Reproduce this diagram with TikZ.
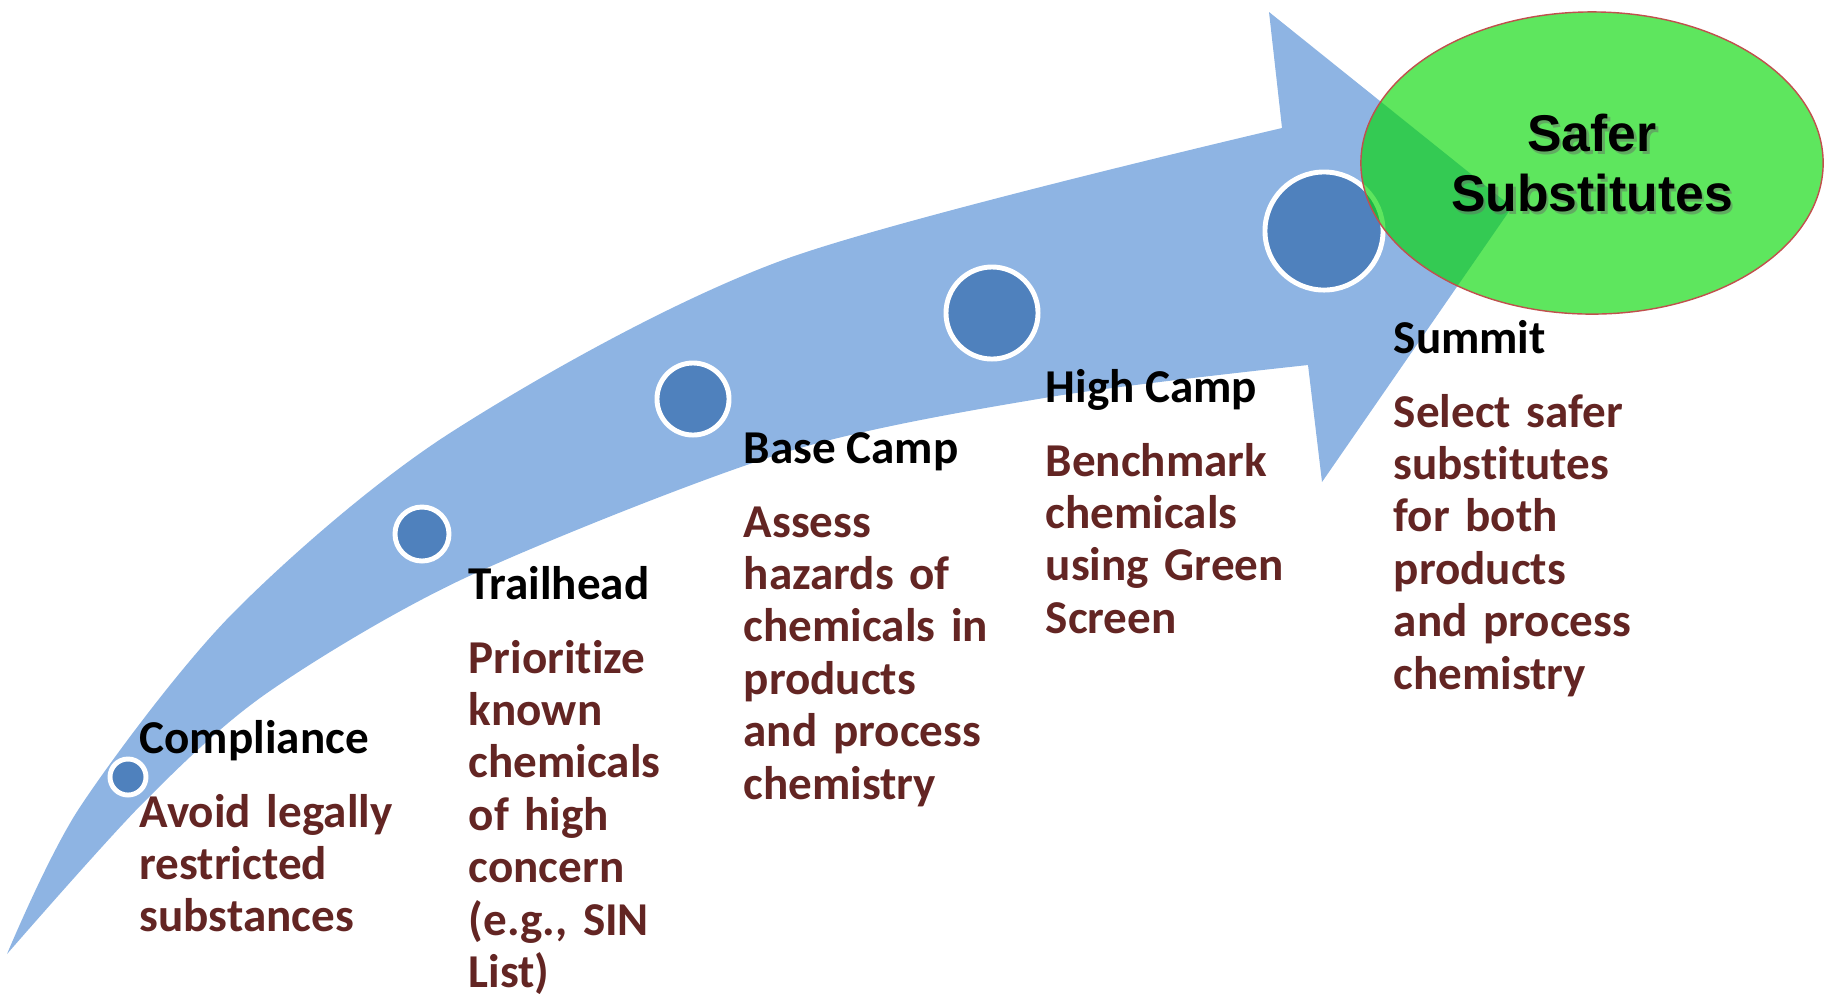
\documentclass[tikz,border=0pt]{standalone}
\usepackage{fontspec}
\setmainfont{Carlito}[Ligatures=NoCommon]
\newfontfamily\goalfont{Liberation Sans}
\usetikzlibrary{shapes.geometric}

\definecolor{trailblue}{HTML}{8EB4E3}
\definecolor{campblue}{HTML}{4F81BD}
\definecolor{textbrown}{HTML}{632523}
\definecolor{goalgreen}{RGB}{0,215,0}
\definecolor{goalred}{HTML}{C0504D}

\tikzset{
  camp/.style={circle, draw=white, line width=1.4pt, fill=campblue, inner sep=0pt},
  campname/.style={anchor=base west, inner sep=0pt, font=\bfseries\fontsize{13.4}{14.9}\selectfont},
  camptext/.style={anchor=base west, inner sep=0pt, text width=6cm, align=left,
    text=textbrown, font=\bfseries\fontsize{13.4}{14.9}\selectfont},
  goal/.style={ellipse, draw=goalred, line width=0.4pt, fill=goalgreen, fill opacity=0.63,
    text opacity=1, align=center, inner sep=0pt,
    font=\goalfont\bfseries\fontsize{14.7}{17.1}\selectfont}
}

\begin{document}
\begin{tikzpicture}[x=0.01cm, y=-0.01cm]

\useasboundingbox (0,0) rectangle (1825,996);

% the trail
\fill[trailblue] plot[smooth, tension=0.5] coordinates {(7,954) (80,807) (233,613)
  (450,433) (783,260) (1282,128)}
  -- (1269,12) -- (1512,207) -- (1322,482) -- (1308,365)
  -- plot[smooth, tension=0.5] coordinates {(1308,365) (1050,397) (783,453)
  (467,577) (267,693) (143,803) (7,954)}
  -- cycle;

\node[camp, minimum size=0.36cm] (c1) at (128,777) {};
\node[camp, minimum size=0.54cm] (c2) at (422,534) {};
\node[camp, minimum size=0.72cm] (c3) at (693,399) {};
\node[camp, minimum size=0.92cm] (c4) at (992,313) {};
\node[camp, minimum size=1.18cm] (c5) at (1324,231) {};

%%%%%%%%%%%%%%%

\node[campname] (comp) at (139,753) {Compliance};
\node[camptext] (comptext) at ([yshift=-0.74cm]comp.base west) {Avoid legally\\restricted\\substances};

\node[campname] (trail) at (468,599) {Trailhead};
\node[camptext] (trailtext) at ([yshift=-0.74cm]trail.base west) {Prioritize\\known\\chemicals\\of high\\concern\\(e.g., SIN\\List)};

\node[campname] (base) at (743,463) {Base Camp};
\node[camptext] (basetext) at ([yshift=-0.74cm]base.base west) {Assess\\hazards of\\chemicals in\\products\\and process\\chemistry};

\node[campname] (high) at (1045,402) {High Camp};
\node[camptext] (hightext) at ([yshift=-0.74cm]high.base west) {Benchmark\\chemicals\\using Green\\Screen};

\node[campname] (summit) at (1393,353) {Summit};
\node[camptext] (summittext) at ([yshift=-0.74cm]summit.base west) {Select safer\\substitutes\\for both\\products\\and process\\chemistry};

%%%%%%%%%%%%%%%

\node[goal, minimum width=4.62cm, minimum height=3.02cm] (safer) at (1592,163) {};
\node[align=center, text=black!60, opacity=0.45, font=\goalfont\bfseries\fontsize{14.7}{17.1}\selectfont]
  at ([xshift=0.025cm, yshift=-0.03cm]safer.center) {Safer\\Substitutes};
\node[align=center, font=\goalfont\bfseries\fontsize{14.7}{17.1}\selectfont] (safertext) at (safer.center) {Safer\\Substitutes};

\end{tikzpicture}
\end{document}
